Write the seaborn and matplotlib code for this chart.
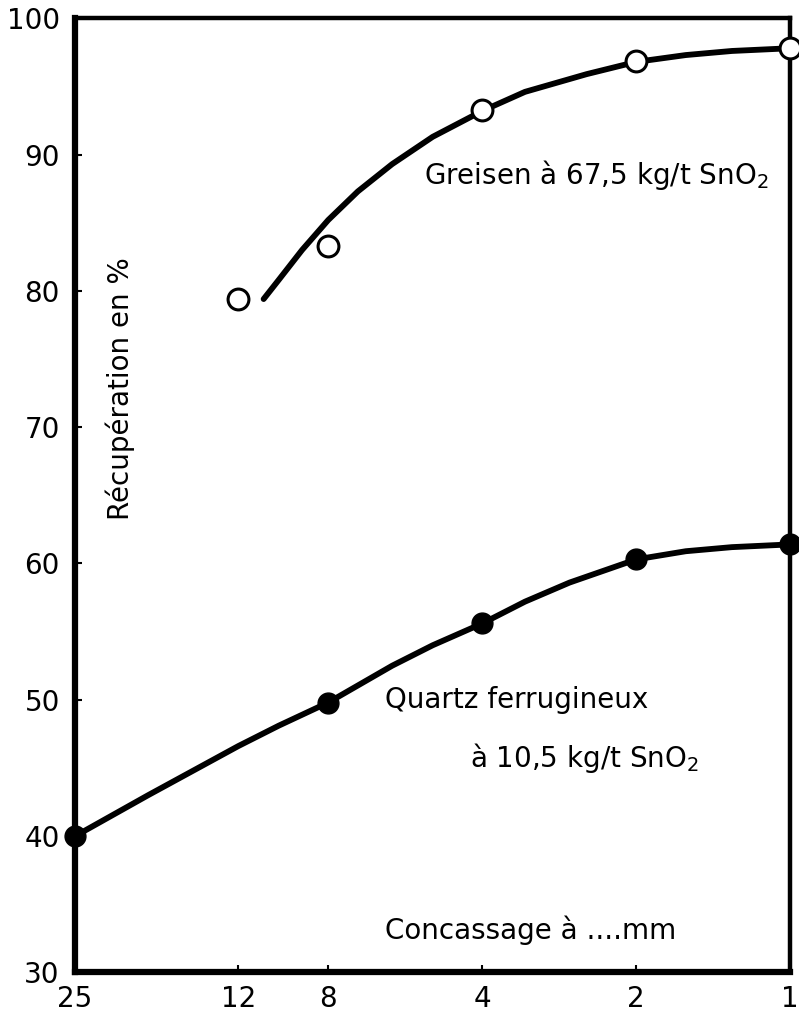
import numpy as np
import pandas as pd
import matplotlib
matplotlib.use("Agg")
import matplotlib.pyplot as plt
import seaborn as sns

# données
greisen_mm = [12, 8, 4, 2, 1]
greisen_pts = [79.4, 83.3, 93.3, 96.9, 97.8]
# tracé de la courbe lissée
greisen_curve_mm = [10.7, 10, 9, 8, 7, 6, 5, 4, 3.3, 2.5, 2, 1.6, 1.3, 1]
greisen_curve = [79.4, 80.8, 83.0, 85.2, 87.3, 89.3, 91.3, 93.2, 94.6, 95.9, 96.8, 97.3, 97.6, 97.8]

quartz_mm = [25, 8, 4, 2, 1]
quartz_pts = [40.0, 49.8, 55.6, 60.3, 61.4]
quartz_curve_mm = [25, 18, 12, 10, 8, 6, 5, 4, 3.3, 2.7, 2, 1.6, 1.3, 1]
quartz_curve = [40.0, 43.0, 46.6, 48.1, 49.8, 52.5, 54.0, 55.6, 57.2, 58.6, 60.3, 60.9, 61.2, 61.4]

x_ticks = [25, 12, 8, 4, 2, 1]
y_ticks = [30, 40, 50, 60, 70, 80, 90, 100]

sns.set_style("ticks")
plt.rcParams['font.family'] = ['DejaVu Sans']
plt.rcParams['text.color'] = 'black'

fig = plt.figure(figsize=(7.99, 10.14), dpi=100)
ax = fig.add_axes([0.094, 0.041, 0.895, 0.941])

df_g = pd.DataFrame({'mm': greisen_curve_mm, 'rec': greisen_curve})
df_q = pd.DataFrame({'mm': quartz_curve_mm, 'rec': quartz_curve})
sns.lineplot(data=df_g, x='mm', y='rec', color='black', lw=4.2, sort=False, ax=ax)
sns.lineplot(data=df_q, x='mm', y='rec', color='black', lw=4.2, sort=False, ax=ax)

ax.plot(greisen_mm, greisen_pts, 'o', ms=15, mfc='white', mec='black', mew=2.2,
        clip_on=False, zorder=5)
ax.plot(quartz_mm, quartz_pts, 'o', ms=15, mfc='black', mec='black',
        clip_on=False, zorder=5)

ax.set_xscale('log')
ax.set_xlim(25, 1)
ax.set_ylim(30, 100)
ax.set_xticks(x_ticks)
ax.set_xticklabels([str(v) for v in x_ticks])
ax.xaxis.set_minor_locator(matplotlib.ticker.NullLocator())
ax.set_yticks(y_ticks)
ax.set_yticklabels([str(v) for v in y_ticks])
ax.tick_params(axis='both', direction='in', length=5, width=1.5, labelsize=20,
               color='black', labelcolor='black')
ax.tick_params(axis='x', pad=9)
ax.tick_params(axis='y', pad=11)
ax.set_xlabel('')
ax.set_ylabel('')

for side in ['left', 'bottom']:
    ax.spines[side].set_linewidth(4.5)
    ax.spines[side].set_color('black')
for side in ['top', 'right']:
    ax.spines[side].set_linewidth(3.2)
    ax.spines[side].set_color('black')
    ax.spines[side].set_visible(True)

ax.text(0.063, 0.612, 'Récupération en %', transform=ax.transAxes, rotation=90,
        ha='center', va='center', fontsize=20)
ax.text(0.488, 0.836, 'Greisen à 67,5 kg/t SnO$_2$', transform=ax.transAxes,
        ha='left', va='center', fontsize=20)
ax.text(0.434, 0.285, 'Quartz ferrugineux', transform=ax.transAxes,
        ha='left', va='center', fontsize=20)
ax.text(0.552, 0.225, 'à 10,5 kg/t SnO$_2$', transform=ax.transAxes,
        ha='left', va='center', fontsize=20)
ax.text(0.434, 0.044, 'Concassage à ....mm', transform=ax.transAxes,
        ha='left', va='center', fontsize=20)

fig.savefig('out.png', dpi=100)
